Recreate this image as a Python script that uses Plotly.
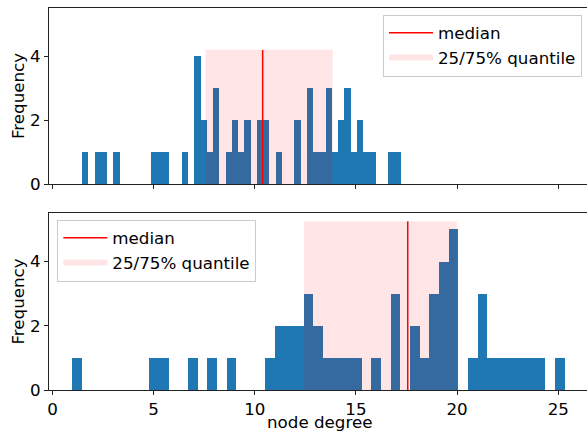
import plotly.graph_objects as go

# ---------------- data ----------------
# top panel histogram: bin counts, first bin edge and bin width
top_counts = [1, 0, 1, 1, 0, 1, 0, 0, 0, 0, 0, 1, 1, 1, 0, 0, 1, 0, 4, 2,
              1, 3, 0, 1, 2, 1, 2, 0, 2, 2, 0, 1, 0, 0, 2, 0, 3, 1, 1, 3,
              1, 2, 3, 1, 2, 1, 1, 0, 0, 1, 1]
top_bin_start = 1.464
top_bin_width = 0.3086
top_median = 10.39
top_quantiles = [7.57, 13.85]

# bottom panel histogram
bottom_counts = [1, 0, 0, 0, 0, 0, 0, 0, 1, 1, 0, 0, 1, 0, 1, 0, 1, 0, 0, 0,
                 1, 2, 2, 2, 3, 2, 1, 1, 1, 1, 0, 1, 0, 3, 0, 2, 1, 3, 4, 5,
                 0, 1, 3, 1, 1, 1, 1, 1, 1, 0, 1]
bottom_bin_start = 0.969
bottom_bin_width = 0.4773
bottom_median = 17.56
bottom_quantiles = [12.43, 19.98]

x_ticks = [0, 5, 10, 15, 20, 25]
y_ticks = [0, 2, 4]
legend_labels = ["median", "25/75% quantile"]
x_title = "node degree"
y_title = "Frequency"

# ---------------- styling ----------------
BAR = "#1f77b4"
LINE = "#ff0000"
FILL = "rgba(255,0,0,0.1)"
FONT = "DejaVu Sans"
FS = 16.7

fig = go.Figure()


def add_panel(counts, start, width, median, quant, xa, ya, legend):
    centers = [start + (i + 0.5) * width for i in range(len(counts))]
    fig.add_trace(go.Bar(x=centers, y=counts, width=width, marker=dict(color=BAR, line=dict(width=0)),
                         showlegend=False, xaxis=xa, yaxis=ya))
    top = 1.05 * max(counts)
    fig.add_trace(go.Scatter(x=[median, median], y=[0, top], mode="lines",
                             line=dict(color=LINE, width=1.5), name=legend_labels[0],
                             xaxis=xa, yaxis=ya, legend=legend))
    q0, q1 = quant
    fig.add_trace(go.Scatter(x=[q0, q1, q1, q0, q0], y=[0, 0, top, top, 0], mode="none",
                             fill="toself", fillcolor=FILL, name=legend_labels[1],
                             xaxis=xa, yaxis=ya, legend=legend))


add_panel(top_counts, top_bin_start, top_bin_width, top_median, top_quantiles, "x", "y", "legend")
add_panel(bottom_counts, bottom_bin_start, bottom_bin_width, bottom_median, bottom_quantiles, "x2", "y2", "legend2")

W, H = 587, 432
ml, mr, mt, mb = 49, 0, 8, 42
ph = H - mt - mb
pw = W - ml - mr

axis_common = dict(showline=True, linecolor="#222222", linewidth=1, ticks="outside", ticklen=4,
                   tickwidth=1, tickcolor="#222222", showgrid=False, zeroline=False, automargin=False,
                   tickfont=dict(family=FONT, size=FS, color="black"))
xrange = [-0.17, 26.42]
yrange = [0, 5.51]

legend_common = dict(bgcolor="rgba(255,255,255,0.8)", bordercolor="#cccccc", borderwidth=1,
                     font=dict(size=FS), tracegroupgap=0, itemwidth=44)

fig.update_layout(
    width=W, height=H,
    margin=dict(l=ml, r=mr, t=mt, b=mb),
    paper_bgcolor="white", plot_bgcolor="white",
    font=dict(family=FONT, size=FS, color="black"),
    bargap=0,
    xaxis=dict(axis_common, domain=[0, 1], range=xrange, tickvals=x_ticks, showticklabels=False,
               mirror=True, anchor="y"),
    yaxis=dict(axis_common, domain=[(390 - 184) / ph, 1], range=yrange, tickvals=y_ticks,
               title=dict(text=y_title, standoff=1, font=dict(size=FS)), anchor="x"),
    xaxis2=dict(axis_common, domain=[0, 1], range=xrange, tickvals=x_ticks, matches="x",
                mirror=True, anchor="y2"),
    yaxis2=dict(axis_common, domain=[0, (390 - 213) / ph], range=yrange, tickvals=y_ticks,
                title=dict(text=y_title, standoff=1, font=dict(size=FS)), anchor="x2"),
    legend=dict(legend_common, x=(582 - ml) / pw, xanchor="right", y=(390 - 14.5) / ph, yanchor="top"),
    legend2=dict(legend_common, x=(57.3 - ml) / pw, xanchor="left", y=(390 - 219.5) / ph, yanchor="top"),
    annotations=[dict(text=x_title, xref="x2", x=(xrange[0] + 26.57) / 2, yref="paper",
                      y=(390 - 422.5) / ph, yanchor="middle", xanchor="center", showarrow=False,
                      font=dict(size=FS, family=FONT, color="black"))],
)

fig.write_html("out.html", config={"displayModeBar": False},
               post_script="document.body.style.margin='0';document.body.style.overflow='hidden';")
